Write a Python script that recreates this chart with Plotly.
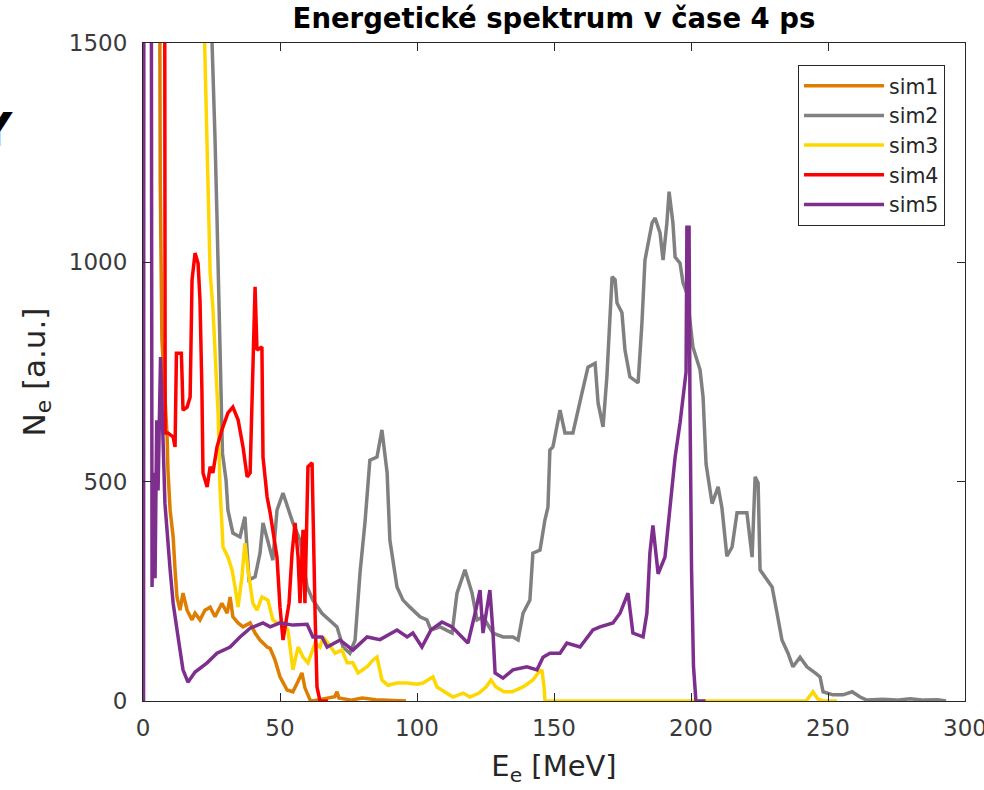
import plotly.graph_objects as go

# energy axis [MeV] and counts [a.u.]
sim1_E = [0, 5.5, 6.3, 6.9, 8.8, 9.1, 9.9, 11.0, 11.7, 12.4, 13.5, 14.6, 16.1, 17.9, 19.0, 20.8,
          22.6, 24.5, 26.3, 28.8, 30.7, 31.8, 32.8, 34.7, 36.5, 39.1, 40.9, 42.7, 45.3, 46.4,
          48.2, 50.0, 52.6, 54.7, 56.6, 58.0, 59.1, 61.0, 62.0, 65.0, 70.0, 70.8, 71.5, 76.0,
          80.0, 85.0, 90.0, 96.0]
sim1_N = [3000, 3000, 1180, 823, 602, 527, 435, 374, 299, 237, 207, 246, 207, 185, 200, 185,
          207, 214, 192, 223, 200, 237, 192, 178, 169, 178, 155, 139, 123, 120,
          93, 55, 25, 21, 45, 64, 30, 2, 0, 3, 10, 21, 7, 2,
          7, 3, 2, 0]

sim2_E = [0, 24.5, 25.2, 25.5, 26.3, 27.0, 27.7, 28.5, 29.0, 30.3, 31.0, 32.8, 35.4, 37.2, 37.8,
          38.7, 40.9, 42.7, 43.8, 45.6, 47.4, 48.9, 51.1, 54.7, 57.3, 59.9, 62.0, 65.3, 68.2,
          70.8, 73.0, 75.5, 77.4, 79.2, 81.0, 82.8, 85.4, 87.2, 89.1, 90.1, 92.7, 94.9, 97.4,
          101.1, 103.6, 105.1, 108.4, 112.8, 114.6, 117.5, 120.1, 121.9, 124.1, 127.7, 131.4,
          135.0, 136.9, 138.7, 141.2, 142.3, 144.9, 146.7, 147.8, 148.5, 149.6, 152.2, 154.0,
          156.9, 160.2, 162.4, 165.0, 166.1, 167.9, 169.3, 171.2, 172.3, 173.0, 174.8, 175.9,
          177.7, 180.7, 182.1, 183.2, 185.8, 186.9, 188.7, 189.8, 191.2, 192.0, 193.4, 194.2,
          196.0, 197.1, 198.5, 200.7, 203.3, 204.4, 205.5, 207.7, 209.9, 211.3, 213.1, 215.0,
          216.8, 220.4, 222.3, 223.4, 224.5, 225.2, 227.0, 229.6, 231.4, 233.2, 235.4, 237.2,
          239.8, 242.3, 245.3, 247.1, 248.2, 251.8, 255.5, 258.8, 261.7, 264.2, 270.0, 275.0,
          280.0, 285.0, 290.0, 293.1]
sim2_N = [3000, 3000, 1500, 1416, 1279, 1103, 921, 755, 565, 504, 435, 383, 374, 420, 365,
          276, 283, 337, 406, 360, 321, 435, 474, 406, 367, 260, 230, 200, 185,
          169, 123, 109, 139, 292, 406, 549, 556, 618, 520, 367, 260, 230, 214,
          192, 185, 162, 169, 155, 246, 299, 246, 185, 192, 155, 146,
          146, 139, 200, 230, 337, 344, 413, 442, 572, 579, 663, 611,
          611, 702, 761, 770, 679, 625, 739, 967, 960, 907, 885, 800,
          739, 725, 862, 1005, 1090, 1101, 1067, 1005, 1090, 1161, 1090, 1012,
          998, 953, 930, 807, 755, 693, 540, 450, 488, 440, 330, 351,
          429, 429, 328, 511, 497, 299, 283, 260, 200, 139, 109, 78,
          100, 78, 64, 55, 21, 14, 14, 21, 9, 2, 4, 2,
          5, 2, 3, 0]

sim3_E = [0, 21.5, 22.3, 23.0, 23.4, 24.1, 24.5, 25.5, 26.3, 26.6, 27.4, 28.1, 28.8, 29.2, 31.0,
          32.5, 33.6, 34.7, 36.1, 37.2, 38.3, 40.1, 41.6, 43.4, 45.6, 47.4, 48.9, 51.1, 52.9,
          54.7, 56.6, 58.4, 60.2, 62.8, 64.6, 65.7, 67.5, 70.1, 72.6, 74.5, 76.6, 78.5, 81.8,
          83.9, 85.4, 87.2, 89.4, 92.7, 96.4, 100.0, 102.2, 105.8, 107.3, 111.0, 113.1, 116.8,
          119.3, 122.6, 125.2, 127.0, 128.8, 131.8, 134.7, 138.7, 142.3, 144.2, 145.6, 146.4,
          146.7, 242.0, 244.5, 246.2, 248.2, 253.3]
sim3_N = [3000, 3000, 1550, 1377, 1279, 1074, 976, 898, 807, 755, 657, 488, 413, 351, 328,
          299, 260, 214, 283, 360, 299, 223, 207, 237, 230, 185, 178, 178, 162,
          71, 123, 100, 87, 132, 123, 146, 132, 109, 116, 87, 87, 64, 78,
          93, 100, 48, 36, 41, 41, 38, 41, 55, 32, 18, 9, 18,
          9, 18, 32, 48, 32, 21, 21, 32, 48, 64, 71, 30,
          0, 0, 21, 5, 0, 0]

sim4_E = [0, 7.7, 8.1, 9.1, 11.0, 11.7, 12.2, 14.0, 14.3, 14.6, 16.1, 17.2, 17.9, 19.0, 20.1,
          20.8, 21.5, 21.9, 23.4, 24.5, 25.5, 27.0, 28.8, 31.0, 32.8, 34.7, 36.5, 38.0, 39.1,
          40.1, 40.9, 41.6, 43.4, 43.8, 45.3, 46.4, 47.4, 48.9, 50.0, 51.1, 53.3, 54.4, 55.5,
          56.6, 57.3, 57.7, 58.4, 59.1, 59.9, 60.2, 61.7, 62.0, 62.8, 63.5, 64.6, 67.5]
sim4_N = [3000, 3000, 611, 611, 602, 579, 793, 793, 732, 663, 670, 693, 960, 1021, 998,
          914, 709, 520, 488, 534, 520, 579, 618, 657, 670, 641, 579, 511, 520,
          732, 944, 800, 807, 556, 465, 429, 390, 328, 214, 139, 223, 337, 406,
          328, 223, 299, 390, 223, 465, 534, 543, 435, 200, 32, 0, 0]

sim5_E = [0, 0.2, 0.4, 2.8, 3.3, 3.9, 4.4, 5.0, 5.5, 6.4, 7.1, 8.0, 9.9, 11.0, 12.8, 14.6, 16.4,
          19.0, 23.4, 27.0, 31.8, 35.4, 39.1, 43.8, 46.4, 50.0, 54.7, 59.9, 62.0, 65.3, 67.2,
          71.9, 76.6, 81.8, 86.5, 92.7, 96.4, 98.5, 101.8, 105.1, 109.1, 112.8, 116.4, 118.6,
          121.2, 123.0, 124.1, 126.6, 127.7, 128.5, 131.4, 135.0, 140.1, 143.8, 146.0, 148.5,
          152.2, 154.7, 159.5, 164.2, 166.8, 171.5, 174.1, 177.0, 178.8, 182.5, 183.9, 185.0,
          186.1, 188.0, 190.5, 192.3, 194.2, 196.0, 197.1, 198.2, 198.5, 199.3, 199.6, 200.2,
          200.9, 201.8, 205.3]
sim5_N = [0, 0, 3000, 3000, 260, 520, 280, 640, 480, 784, 640, 451, 299, 223, 146, 71, 43,
          66, 87, 109, 123, 146, 166, 178, 169, 178, 173, 175, 146, 146, 123,
          139, 116, 146, 140, 162, 146, 155, 123, 162, 180, 169, 146, 132,
          200, 253, 155, 253, 160, 64, 52, 71, 78, 71, 100, 109,
          109, 132, 123, 162, 169, 178, 200, 246, 155, 146, 200, 337,
          400, 290, 328, 442, 556, 634, 686, 750, 1080, 1080, 700, 300,
          80, 0, 0]

names = ['sim1', 'sim2', 'sim3', 'sim4', 'sim5']
colors = ['#DE7D00', '#808080', '#FFD700', '#FF0000', '#7E2F8E']
series = [(sim1_E, sim1_N), (sim2_E, sim2_N), (sim3_E, sim3_N), (sim4_E, sim4_N), (sim5_E, sim5_N)]

x_ticks = [0, 50, 100, 150, 200, 250, 300]
y_ticks = [0, 500, 1000, 1500]

fig = go.Figure()
for name, color, (e, n) in zip(names, colors, series):
    fig.add_trace(go.Scatter(x=e, y=n, mode='lines', name=name,
                             line=dict(color=color, width=3.5)))

axis_style = dict(showline=True, linecolor='#262626', linewidth=1, mirror='ticks',
                  ticks='inside', ticklen=8, tickcolor='#262626', showgrid=False,
                  zeroline=False, tickfont=dict(size=23, color='#3a3a3a'),
                  ticklabeloverflow='allow', automargin=False)

fig.update_layout(
    width=984, height=790,
    margin=dict(l=143, r=19, t=43, b=89),
    plot_bgcolor='white', paper_bgcolor='white',
    font=dict(family='DejaVu Sans', size=20, color='#262626'),
    title=dict(text='<b>Energetické spektrum v čase 4 ps</b>', xref='paper', x=0.5,
               xanchor='center', y=0.977, yanchor='middle',
               font=dict(size=27.5, color='black')),
    legend=dict(x=0.9757, xanchor='right', y=0.9666, yanchor='top',
                bgcolor='white', bordercolor='#262626', borderwidth=1, itemwidth=80,
                font=dict(size=20.5, color='#262626'), tracegroupgap=0),
    showlegend=True,
)
# cropped glyph at the left edge of the picture
fig.add_annotation(text='<b>Y</b>', xref='paper', yref='paper', x=(-5 - 143) / 822,
                   y=(701 - 130) / 658, xanchor='center', yanchor='middle', showarrow=False,
                   font=dict(size=46, color='black'))

fig.update_xaxes(range=[0, 300], tickvals=x_ticks, ticklabelstandoff=6, **axis_style,
                 title=dict(text='E<sub>e</sub> [MeV]', font=dict(size=29), standoff=16))
fig.update_yaxes(range=[0, 1500], tickvals=y_ticks, ticklabelstandoff=10, **axis_style,
                 title=dict(text='N<sub>e</sub> [a.u.]', font=dict(size=31), standoff=14))

fig.write_html("out.html", config={'displayModeBar': False},
               post_script="document.body.style.margin='0';")
